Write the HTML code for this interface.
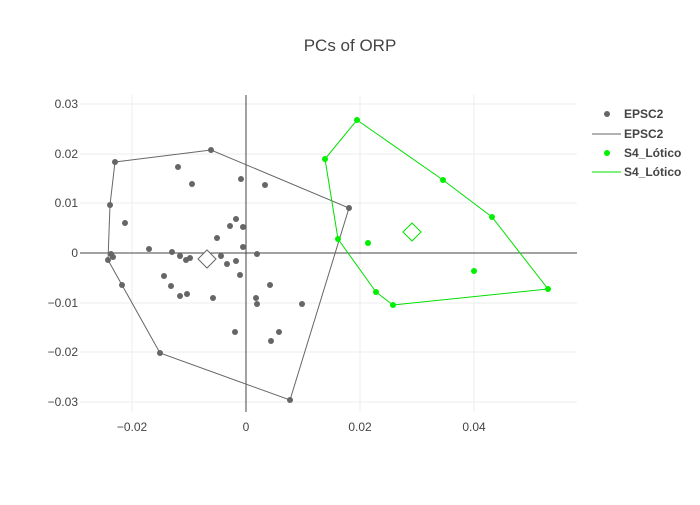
<!DOCTYPE html><html><head><style>body{margin:0;background:#fff}svg{font-family:"Liberation Sans",sans-serif}</style></head><body>
<svg width="700" height="500" xmlns="http://www.w3.org/2000/svg">
<text x="350" y="51" text-anchor="middle" font-size="17" fill="#444">PCs of ORP</text>
<g stroke="#eee" stroke-width="1">
<line x1="80" x2="577" y1="104" y2="104"/><line x1="80" x2="577" y1="154" y2="154"/><line x1="80" x2="577" y1="203" y2="203"/><line x1="80" x2="577" y1="303" y2="303"/><line x1="80" x2="577" y1="352" y2="352"/><line x1="80" x2="577" y1="402" y2="402"/>
<line x1="132" x2="132" y1="95" y2="412"/><line x1="360" x2="360" y1="95" y2="412"/><line x1="474" x2="474" y1="95" y2="412"/>
</g>
<g stroke="#444" stroke-width="1"><line x1="80" x2="577" y1="253" y2="253"/><line x1="246" x2="246" y1="95" y2="412"/></g>
<g font-size="12" fill="#444" text-anchor="end">
<text x="78" y="108">0.03</text><text x="78" y="158">0.02</text><text x="78" y="207">0.01</text><text x="78" y="257">0</text><text x="78" y="307">−0.01</text><text x="78" y="356">−0.02</text><text x="78" y="406">−0.03</text></g>
<g font-size="12" fill="#444" text-anchor="middle">
<text x="132" y="431">−0.02</text><text x="246" y="431">0</text><text x="360" y="431">0.02</text><text x="474" y="431">0.04</text></g>
<polygon points="115,162 211,150 349,208 290,400 160,353 122,285 108,260 110,205" fill="none" stroke="#666"/>
<g fill="#666">
<circle cx="115" cy="162" r="3"/><circle cx="211" cy="150" r="3"/><circle cx="349" cy="208" r="3"/><circle cx="290" cy="400" r="3"/><circle cx="160" cy="353" r="3"/><circle cx="122" cy="285" r="3"/><circle cx="108" cy="260" r="3"/><circle cx="110" cy="205" r="3"/>
<circle cx="178" cy="167" r="3"/><circle cx="192" cy="184" r="3"/><circle cx="241" cy="179" r="3"/><circle cx="265" cy="185" r="3"/><circle cx="125" cy="223" r="3"/><circle cx="236" cy="219" r="3"/><circle cx="230" cy="226" r="3"/><circle cx="243" cy="227" r="3"/><circle cx="217" cy="238" r="3"/><circle cx="243" cy="247" r="3"/><circle cx="149" cy="249" r="3"/><circle cx="172" cy="252" r="3"/><circle cx="257" cy="254" r="3"/><circle cx="180" cy="256" r="3"/><circle cx="186" cy="260" r="3"/><circle cx="190" cy="258" r="3"/><circle cx="221" cy="256" r="3"/><circle cx="227" cy="264" r="3"/><circle cx="236" cy="261" r="3"/><circle cx="240" cy="275" r="3"/><circle cx="164" cy="276" r="3"/><circle cx="171" cy="286" r="3"/><circle cx="270" cy="285" r="3"/><circle cx="187" cy="294" r="3"/><circle cx="180" cy="296" r="3"/><circle cx="213" cy="298" r="3"/><circle cx="256" cy="298" r="3"/><circle cx="257" cy="304" r="3"/><circle cx="302" cy="304" r="3"/><circle cx="235" cy="332" r="3"/><circle cx="279" cy="332" r="3"/><circle cx="271" cy="341" r="3"/><circle cx="111" cy="254" r="3"/><circle cx="113" cy="257" r="3"/>
</g>
<polygon points="207,250 216,259 207,268 198,259" fill="#fff" stroke="#666"/>
<polygon points="325,159 357,120 443,180 492,217 548,289 393,305 376,292 338,239" fill="none" stroke="#00e000"/>
<g fill="#00f000">
<circle cx="325" cy="159" r="3"/><circle cx="357" cy="120" r="3"/><circle cx="443" cy="180" r="3"/><circle cx="492" cy="217" r="3"/><circle cx="548" cy="289" r="3"/><circle cx="393" cy="305" r="3"/><circle cx="376" cy="292" r="3"/><circle cx="338" cy="239" r="3"/><circle cx="368" cy="243" r="3"/><circle cx="474" cy="271" r="3"/></g>
<polygon points="412,223 421,232 412,241 403,232" fill="#fff" stroke="#00e000"/>
<g font-size="12" font-weight="bold" fill="#444">
<circle cx="607" cy="114" r="3" fill="#666"/><text x="624" y="118">EPSC2</text>
<line x1="592" x2="621" y1="134" y2="134" stroke="#666"/><text x="624" y="138">EPSC2</text>
<circle cx="607" cy="153" r="3" fill="#00f000"/><text x="624" y="157">S4_Lótico</text>
<line x1="592" x2="621" y1="172" y2="172" stroke="#00e000"/><text x="624" y="176">S4_Lótico</text>
</g>
</svg></body></html>
